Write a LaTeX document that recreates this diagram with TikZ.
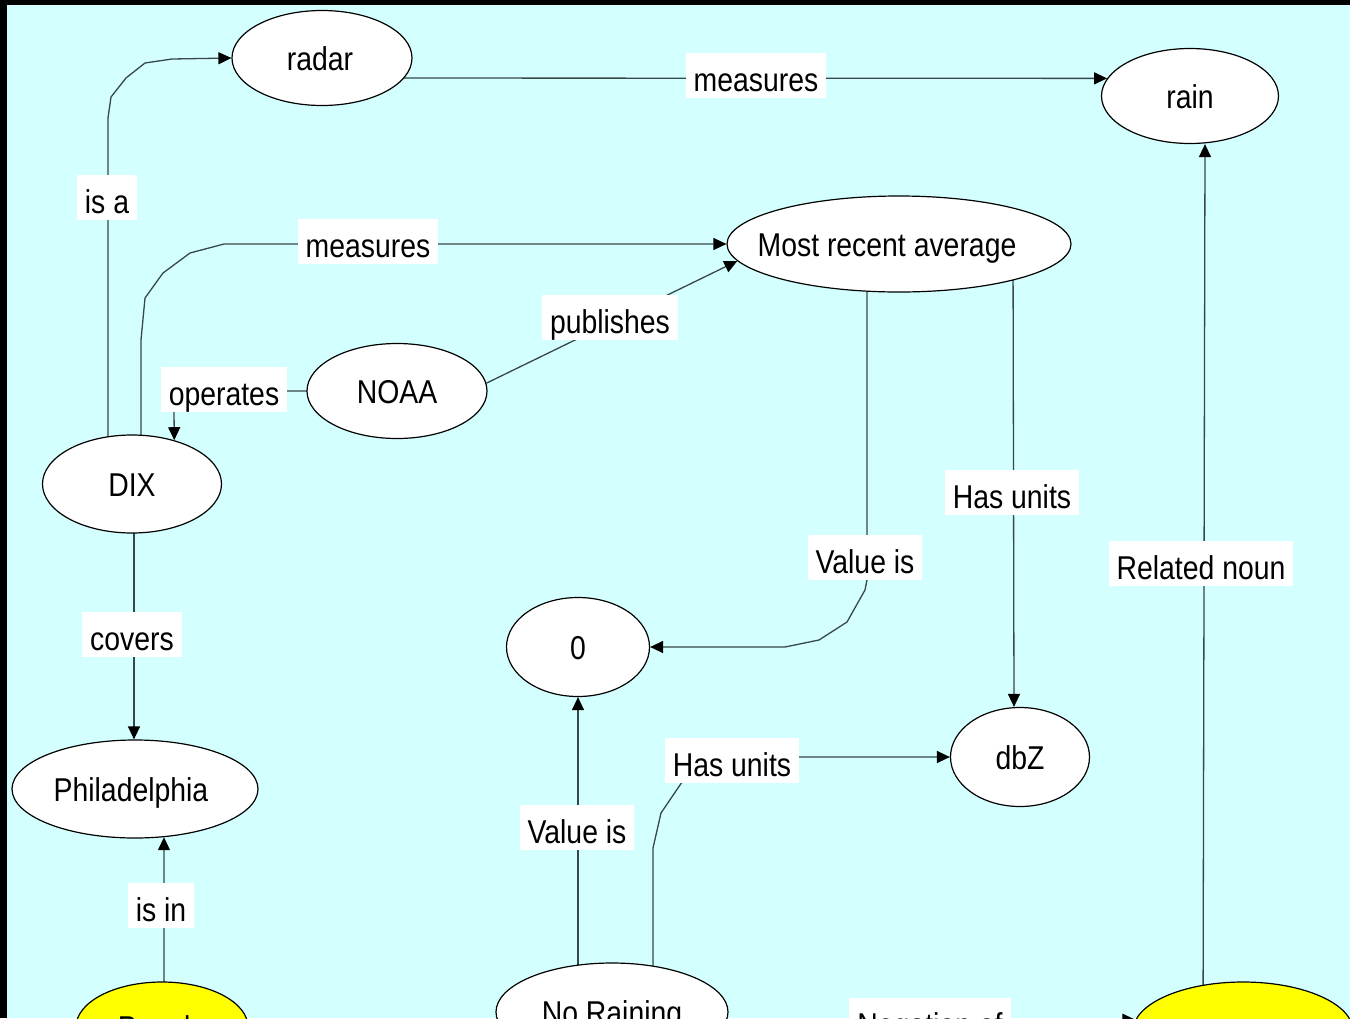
\documentclass[tikz,border=0pt]{standalone}
\usepackage{fontspec}
\setmainfont{Liberation Sans}[FakeStretch=0.86]
\usetikzlibrary{shapes.geometric,arrows.meta}
\definecolor{sky}{RGB}{212,255,255}
\definecolor{sun}{RGB}{255,255,0}
\definecolor{wire}{RGB}{55,72,72}
\pgfdeclarelayer{paper}
\pgfdeclarelayer{wires}
\pgfsetlayers{paper,wires,main}
% text that does not widen its ellipse
\newcommand{\slimtext}[1]{\makebox[0pt]{#1}}

\begin{document}
\begin{tikzpicture}[x=1pt,y=-1pt,
  concept/.style={ellipse,draw=black,line width=1.2pt,fill=white,inner sep=0pt,
    text height=24pt,text depth=0pt,font=\fontsize{33}{38}\selectfont},
  hot/.style={concept,fill=sun},
  tag/.style={fill=white,inner xsep=8pt,inner ysep=0pt,text height=39pt,text depth=6pt,
    font=\fontsize{33}{38}\selectfont},
  link/.style={draw=wire,line width=1.3pt},
  tip/.style={-{Triangle[length=13pt,width=12pt,black]}}
]
\useasboundingbox (0,0) rectangle (1350,1018);
\begin{pgfonlayer}{paper}
  \fill[black] (0,0) rectangle (1350,1018);
  \fill[sky] (7,5) rectangle (1350,1018);
\end{pgfonlayer}

% concepts
\node[concept,minimum width=180pt,minimum height=95pt] (radar) at (322,58) {\slimtext{\kern-4pt radar}};
\node[concept,minimum width=177pt,minimum height=95pt] (rain) at (1190,96) {\slimtext{rain}};
\node[concept,minimum width=344pt,minimum height=96pt] (avg) at (899,244) {\slimtext{\kern-24pt Most recent average}};
\node[concept,minimum width=180pt,minimum height=95pt] (noaa) at (397,391) {\slimtext{NOAA}};
\node[concept,minimum width=179pt,minimum height=98pt] (dix) at (132,484) {\slimtext{DIX}};
\node[concept,minimum width=246pt,minimum height=98pt] (phl) at (135,789) {\slimtext{\kern-8pt Philadelphia}};
\node[concept,minimum width=143pt,minimum height=99pt] (zero) at (578,647) {\slimtext{0}};
\node[concept,minimum width=139pt,minimum height=99pt] (dbz) at (1020,757) {\slimtext{dbZ}};
\node[concept,minimum width=232pt,minimum height=98pt] (norain) at (612,1012) {\slimtext{No Raining}};
\node[hot,minimum width=172pt,minimum height=90pt] (people) at (162,1027) {\slimtext{People}};
\node[hot,minimum width=220pt,minimum height=98pt] (neg) at (1243,1031) {};

% relation labels
\node[tag] (lisa) at (107,197) {is a};
\node[tag] (lmeas1) at (756,75) {measures};
\node[tag] (lmeas2) at (368,241) {measures};
\node[tag] (lpub) at (610,317) {publishes};
\node[tag] (lop) at (224,389) {operates};
\node[tag] (lval1) at (865,557) {Value is};
\node[tag] (lunit1) at (1012,492) {Has units};
\node[tag] (lrel) at (1201,563) {Related noun};
\node[tag] (lcov) at (132,634) {covers};
\node[tag] (lunit2) at (732,760) {Has units};
\node[tag] (lval2) at (577,827) {Value is};
\node[tag] (lisin) at (161,905) {is in};
\node[tag] (lneg) at (930,1020) {Negation of};

% connectors
\begin{pgfonlayer}{wires}
  \draw[link,tip] ([xshift=-24pt]dix.center) -- (108,118) -- (111,97) -- (126,78)
    -- (145,63) -- (172,59) -- (radar.west);
  \draw[link,tip] ([yshift=-20pt]radar.center) -- (rain.168);
  \draw[link,tip] ([xshift=9pt]dix.center) -- (141,340) -- (145,298) -- (163,273)
    -- (190,253) -- (224,244) -- (avg.west);
  \draw[link,tip] (noaa.5) -- (avg.186);
  \draw[link,tip] (noaa.center) -- (200,391) -- (174,410) -- (dix.46);
  \draw[link,tip] ([xshift=-32pt]avg.center) -- (867,580) -- (865,590) -- (847,622)
    -- (819,640) -- (785,647) -- (zero.east);
  \draw[link,tip] ([xshift=114pt]avg.center) -- ([xshift=-6pt]dbz.north);
  \draw[link,tip] ([xshift=-34pt]norain.center) -- (zero.south);
  \draw[link,tip] ([xshift=41pt]norain.center) -- (653,848) -- (661,813) -- (680,785)
    -- (700,757) -- (dbz.west);
  \draw[link,tip] ([xshift=2pt]people.center) -- (phl.301);
  \draw[link,tip] ([xshift=2pt]dix.center) -- ([xshift=-1pt]phl.north);
  \draw[link,tip] ([xshift=-40pt]neg.center) -- ([xshift=15pt]rain.south);
  \draw[link,tip] ([yshift=-8pt]norain.center) -- (neg.174);
\end{pgfonlayer}
\end{tikzpicture}
\end{document}
